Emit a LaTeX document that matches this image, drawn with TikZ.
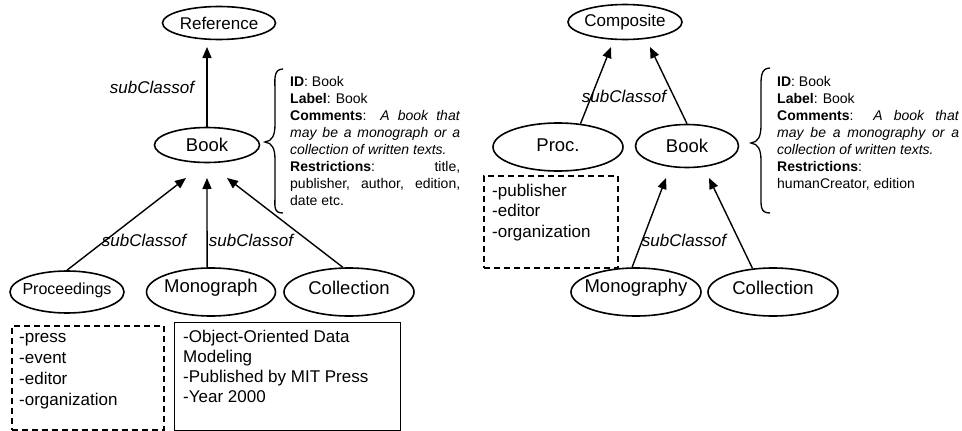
\documentclass[tikz,border=0pt]{standalone}
\usepackage{fontspec}
\setmainfont{Liberation Sans}
\usetikzlibrary{arrows.meta,shapes.geometric}
\begin{document}
\begin{tikzpicture}[x=1pt,y=-1pt,
  cls/.style={ellipse,draw,line width=1.6pt,inner sep=0pt},
  every label/.style={inner sep=0pt,font=\fontsize{18.5}{20}\selectfont},
  arr/.style={line width=1.4pt,-{Triangle[length=11pt,width=9pt]}},
  lbl/.style={inner sep=0pt,font=\fontsize{17}{20}\selectfont\itshape},
  side/.style={inner sep=0pt,align=left,anchor=base west,font=\fontsize{14}{17}\selectfont},
  boxtext/.style={inner sep=0pt,align=left,anchor=base west},
  dbox/.style={draw,line width=1.5pt,dash pattern=on 6pt off 4pt,anchor=north west,inner sep=0pt},
  sbox/.style={draw,line width=1.4pt,anchor=north west,inner sep=0pt},
  brace/.style={line width=1.3pt}]
\useasboundingbox (0,0) rectangle (962,431);

% ---------- left diagram ----------
\node[cls,minimum width=113pt,minimum height=33pt,label={[font=\fontsize{17}{20}\selectfont]center:Reference}] (ref) at (219,23) {};
\node[cls,minimum width=105pt,minimum height=35pt,label=center:Book] (book) at (207,145) {};
\node[cls,minimum width=114pt,minimum height=42pt,label={[font=\fontsize{16}{18}\selectfont,yshift=2pt]center:Proceedings}] (proc) at (67,292) {};
\node[cls,minimum width=129pt,minimum height=48pt,label={[yshift=4pt]center:Monograph}] (mono) at (211,292) {};
\node[cls,minimum width=130pt,minimum height=48pt,label={[yshift=4pt]center:Collection}] (coll) at (349,292) {};

\coordinate (tipR) at (207,47);
\coordinate (t1) at (186,178);
\coordinate (t2) at (207,178);
\coordinate (t3) at (227,178);
\draw[arr] (book.north) -- (tipR);
\draw[arr] (proc.north) -- (t1);
\draw[arr] (mono.99) -- (t2);
\draw[arr] (coll.104) -- (t3);

\node[lbl] (lab1) at (152,87) {subClassof};
\node[lbl] (lab2) at (144,240) {subClassof};
\node[lbl] (lab3) at (251,240) {subClassof};

\draw[brace] (283,69) .. controls (273,69) and (275,80) .. (275,92) -- (275,124)
  .. controls (275,136) and (272,141) .. (265,142)
  .. controls (272,143) and (275,148) .. (275,160) -- (275,194)
  .. controls (275,206) and (273,213) .. (283,213);

\node[side] (desc1) at (290,205) {\textbf{ID}: Book\\
\textbf{Label}: Book\\
\makebox[170pt][s]{\textbf{Comments}: \textit{A book that}}\\
\makebox[170pt][s]{\textit{may be a monograph or a}}\\
\textit{collection of written texts.}\\
\makebox[170pt][s]{\textbf{Restrictions}: title,}\\
\makebox[170pt][s]{publisher, author, edition,}\\
date etc.};

\node[dbox,minimum width=152pt,minimum height=104pt] (box1) at (11,325) {};
\node[boxtext,font=\fontsize{17}{20.7}\selectfont] (txt1) at (19,405) {-press\\-event\\-editor\\-organization};
\node[sbox,minimum width=226pt,minimum height=108pt] (box2) at (174,322) {};
\node[boxtext,font=\fontsize{17}{20}\selectfont] (txt2) at (183,402) {-Object-Oriented Data\\Modeling\\-Published by MIT Press\\-Year 2000};

% ---------- right diagram ----------
\node[cls,minimum width=114pt,minimum height=35pt,label={[font=\fontsize{17}{20}\selectfont]center:Composite}] (comp) at (625,22) {};
\node[cls,minimum width=130pt,minimum height=48pt,label={[yshift=2pt]center:Proc.}] (proc2) at (558,147) {};
\node[cls,minimum width=103pt,minimum height=43pt,label=center:Book] (book2) at (687,146) {};
\node[cls,minimum width=130pt,minimum height=48pt,label={[yshift=4pt]center:Monography}] (monog) at (636,292) {};
\node[cls,minimum width=130pt,minimum height=48pt,label={[yshift=4pt]center:Collection}] (coll2) at (773,292) {};

\coordinate (tipC1) at (611,47);
\coordinate (tipC2) at (650,47);
\coordinate (t4) at (666,178);
\coordinate (t5) at (709,178);
\draw[arr] (proc2.46) -- (tipC1);
\draw[arr] (book2.north) -- (tipC2);
\draw[arr] (monog.99) -- (t4);
\draw[arr] (coll2.131) -- (t5);

\node[lbl] (lab4) at (624,96) {subClassof};
\node[lbl] (lab5) at (684,240) {subClassof};

\draw[brace] (770,68) .. controls (760,68) and (761,79) .. (761,91) -- (761,125)
  .. controls (761,137) and (758,142) .. (751,143)
  .. controls (758,144) and (761,149) .. (761,161) -- (761,194)
  .. controls (761,206) and (760,213) .. (770,213);

\node[side] (desc2) at (777,188) {\textbf{ID}: Book\\
\textbf{Label}: Book\\
\makebox[182pt][s]{\textbf{Comments}: \textit{A book that}}\\
\makebox[182pt][s]{\textit{may be a monography or a}}\\
\textit{collection of written texts.}\\
\textbf{Restrictions}:\\
humanCreator, edition};

\node[dbox,minimum width=134pt,minimum height=92pt] (box3) at (483,175) {};
\node[boxtext,font=\fontsize{17}{20.3}\selectfont] (txt3) at (492,237) {-publisher\\-editor\\-organization};
\end{tikzpicture}
\end{document}
